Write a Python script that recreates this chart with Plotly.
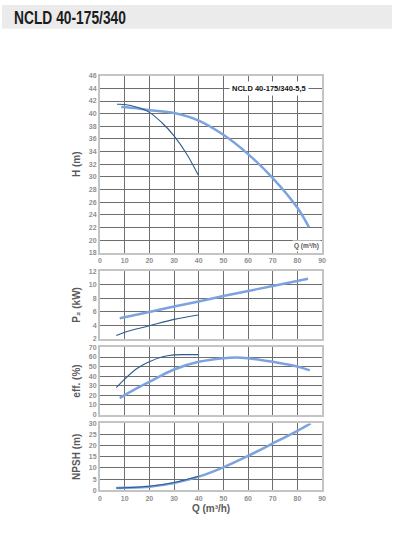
import plotly.graph_objects as go

# ---- data ----
h_light_q = [8.6, 15, 20, 30, 40, 50, 60, 70, 80, 84.7]
h_light_v = [41.05, 40.85, 40.55, 40.1, 38.9, 36.65, 33.6, 29.8, 25.1, 22.0]
h_dark_q = [6.9, 10, 15, 20, 25, 30, 35, 39.8]
h_dark_v = [41.5, 41.45, 41.0, 40.2, 38.6, 36.5, 33.7, 30.3]

p_light_q = [8, 20, 30, 40, 50, 60, 70, 84.3]
p_light_v = [5.02, 5.95, 6.75, 7.5, 8.3, 9.05, 9.8, 10.88]
p_dark_q = [6.6, 10, 20, 30, 39.8]
p_dark_v = [2.44, 2.95, 3.9, 4.85, 5.5]

e_light_q = [8, 15, 20, 30, 40, 50, 55, 60, 70, 80, 85]
e_light_v = [17.2, 27.5, 34, 47, 55, 58.8, 59.5, 58.8, 55, 50.2, 46]
e_dark_q = [6.6, 10, 15, 20, 25, 30, 35, 40]
e_dark_v = [28.2, 37, 48, 55, 60, 62.2, 62.5, 62.5]

n_light_q = [6.6, 10, 20, 30, 40, 50, 60, 70, 80, 85.4]
n_light_v = [1.0, 1.1, 1.6, 3.2, 6.1, 10.3, 15.4, 21.0, 26.7, 30.0]
n_dark_q = [6.6, 10, 20, 30, 40]
n_dark_v = [1.0, 1.15, 1.8, 3.5, 6.3]

x_ticks = [0, 10, 20, 30, 40, 50, 60, 70, 80, 90]
h_ticks = list(range(18, 47, 2))
p_ticks = [2, 4, 6, 8, 10, 12]
e_ticks = [0, 10, 20, 30, 40, 50, 60, 70]
n_ticks = [0, 5, 10, 15, 20, 25, 30]

title_text = "NCLD 40-175/340"
model_label = "NCLD 40-175/340-5,5"

W, H = 398, 534
LIGHT = "#7da3df"
DARK = "#2d5c8c"
GRID = "#6e6e6e"
BORDER = "#c4c4c4"
TICKC = "#8f8f8f"
TITLEC = "#5a5a5a"
FONT = "Liberation Sans, Arial, sans-serif"

def py(pix):
    return 1 - pix / H

def bold(vals):
    return ["<b>%d</b>" % v for v in vals]

xdom = [99.5 / W, 325 / W]
panels = [
    (72.7, 252.0, [18, 46], h_ticks, "H (m)"),
    (270.7, 339.0, [2, 12], p_ticks, "P₂ (kW)"),
    (348.0, 416.0, [0, 70], e_ticks, "eff. (%)"),
    (425.0, 492.7, [0, 30], n_ticks, "NPSH (m)"),
]

fig = go.Figure()
series = [
    (h_light_q, h_light_v, h_dark_q, h_dark_v),
    (p_light_q, p_light_v, p_dark_q, p_dark_v),
    (e_light_q, e_light_v, e_dark_q, e_dark_v),
    (n_light_q, n_light_v, n_dark_q, n_dark_v),
]
for i, (lq, lv, dq, dv) in enumerate(series):
    ax = "" if i == 0 else str(i + 1)
    fig.add_trace(go.Scatter(x=lq, y=lv, mode="lines", line=dict(color=LIGHT, width=2.5, shape="spline"),
                             xaxis="x" + ax, yaxis="y" + ax, showlegend=False, hoverinfo="skip"))
    fig.add_trace(go.Scatter(x=dq, y=dv, mode="lines", line=dict(color=DARK, width=1.1, shape="spline"),
                             xaxis="x" + ax, yaxis="y" + ax, showlegend=False, hoverinfo="skip"))

layout = dict(width=W, height=H, margin=dict(l=0, r=0, t=0, b=0),
              paper_bgcolor="white", plot_bgcolor="white", showlegend=False)
tickfont = dict(family=FONT, size=7, color=TICKC)
for i, (top, bot, rng, ticks, ytitle) in enumerate(panels):
    ax = "" if i == 0 else str(i + 1)
    show_x = i in (0, 3)
    layout["xaxis" + ax] = dict(domain=xdom, range=[0, 90], tickvals=x_ticks, ticktext=bold(x_ticks),
                                 showticklabels=show_x,
                                 showgrid=True, gridcolor=GRID, gridwidth=1, zeroline=False,
                                 showline=True, linecolor=BORDER, linewidth=2, mirror=True,
                                 ticks="", tickfont=tickfont, anchor="y" + ax,
                                 fixedrange=True)
    layout["yaxis" + ax] = dict(domain=[py(bot), py(top)], range=rng, tickvals=ticks, ticktext=bold(ticks),
                                 showgrid=True, gridcolor=GRID, gridwidth=1, zeroline=False,
                                 showline=True, linecolor=BORDER, linewidth=2, mirror=True,
                                 ticks="", tickfont=tickfont, anchor="x" + ax,
                                 title=dict(text="<b>" + ytitle + "</b>",
                                            font=dict(family=FONT, size=10, color=TITLEC),
                                            standoff=6),
                                 fixedrange=True)
layout["xaxis4"]["title"] = dict(text="<b>Q (m³/h)</b>",
                                  font=dict(family=FONT, size=10, color=TITLEC),
                                  standoff=4)
fig.update_layout(**layout)

# header band
fig.add_shape(type="rect", xref="paper", yref="paper", x0=0, x1=396 / W, y0=py(25), y1=py(1),
              fillcolor="#ebebeb", line=dict(width=0), layer="below")
fig.add_annotation(xref="paper", yref="paper", x=10 / W, y=py(14), xanchor="left", yanchor="middle",
                   text="<b>" + title_text + "</b>", showarrow=False,
                   font=dict(family="Liberation Sans, Arial, sans-serif", size=19, color="#1c1c1c"))

# model label box
fig.add_annotation(xref="x", yref="y", x=68.5, y=44, xanchor="center", yanchor="middle",
                   text="<b>" + model_label + "</b>", showarrow=False, bgcolor="white",
                   borderpad=2,
                   font=dict(family=FONT, size=7.5, color="#111111"))
# Q label in top panel
fig.add_annotation(xref="x", yref="y", x=83.5, y=19.1, xanchor="center", yanchor="middle",
                   text="<b>Q (m³/h)</b>", showarrow=False, bgcolor="white", borderpad=1,
                   font=dict(family=FONT, size=6.5, color="#555555"))

post = """
document.body.style.margin='0';
var gd=document.getElementById('{plot_id}');
function squeeze(){
  gd.querySelectorAll('g.annotation').forEach(function(g){
    var t=g.querySelector('text.annotation-text'); if(!t) return;
    var s=t.textContent; var target=null, anchor='left';
    if(s==='NCLD 40-175/340'){target=112;}
    else if(s==='NCLD 40-175/340-5,5'){target=74; anchor='mid';}
    if(!target) return;
    t.removeAttribute('transform');
    var b=t.getBBox(); var k=target/b.width; if(!(k<1)) return;
    var x0 = anchor==='left'? b.x : b.x+b.width/2;
    t.setAttribute('transform','translate('+x0+',0) scale('+k+',1) translate('+(-x0)+',0)');
  });
}
squeeze();
"""

fig.write_html("out.html", post_script=post, config={"displayModeBar": False, "staticPlot": True})
